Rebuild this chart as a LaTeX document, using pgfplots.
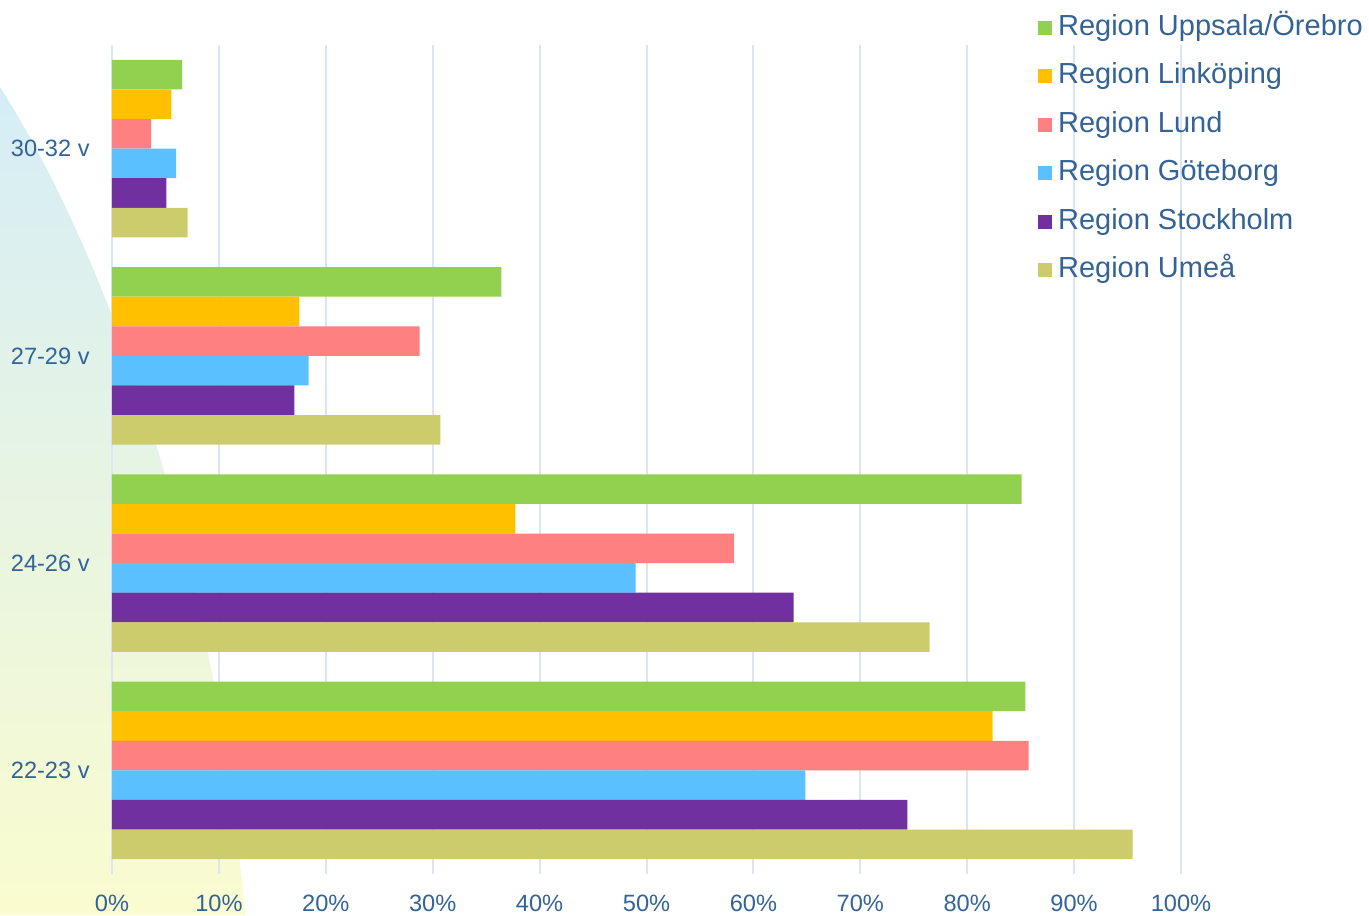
\documentclass[border=0pt]{standalone}
\usepackage{pgfplots}
\pgfplotsset{compat=1.18}
\usepackage{pgfplotstable}
\usepackage{fontspec}
\setmainfont{Liberation Sans}
\definecolor{cUpp}{HTML}{92D050}
\definecolor{cLin}{HTML}{FFC000}
\definecolor{cLund}{HTML}{FF8080}
\definecolor{cGot}{HTML}{5BC0FF}
\definecolor{cSto}{HTML}{7030A0}
\definecolor{cUme}{HTML}{CCCC6C}
\definecolor{txt}{RGB}{52,99,150}
\definecolor{gridc}{RGB}{220,230,242}
\definecolor{bgtop}{RGB}{213,237,246}
\definecolor{bgmid}{RGB}{232,245,228}
\definecolor{bgbot}{RGB}{250,252,207}
\pgfplotsset{sq/.style={legend image code/.code={\fill[##1] (0pt,-3.5pt) rectangle (7pt,3.5pt);}}}
\pgfplotstableread{
y upp lin lund got sto ume
0 85.44 82.38 85.75 64.86 74.40 95.48
1 85.10 37.73 58.19 48.99 63.77 76.49
2 36.42 17.52 28.78 18.40 17.06 30.72
3 6.55 5.55 3.65 5.99 5.08 7.08
}\datatable
\begin{document}
\begin{tikzpicture}
\begin{scope}[x=0.5pt,y=-0.5pt]
\path[use as bounding box] (0,0) rectangle (1369,915);
\shade[top color=bgtop, middle color=bgmid, bottom color=bgbot]
  (0,87) .. controls (110,260) and (215,560) .. (245,915) -- (0,915) -- cycle;
\end{scope}
\begin{axis}[
  at={(56pt,-437pt)}, anchor=south west,
  scale only axis, width=534.5pt, height=414.5pt,
  xbar, bar width=0.1427,
  xmin=0, xmax=100, ymin=-0.5, ymax=3.5,
  xtick={0,10,...,100},
  xticklabels={0\%,10\%,20\%,30\%,40\%,50\%,60\%,70\%,80\%,90\%,100\%},
  ytick={0,1,2,3},
  yticklabels={22-23 v,24-26 v,27-29 v,30-32 v},
  tick label style={font=\fontsize{11.8}{14}\selectfont, text=txt},
  xticklabel style={inner sep=0pt, anchor=north, yshift=-10.5pt},
  yticklabel style={inner sep=0pt, anchor=east, xshift=-11pt},
  axis line style={draw=none},
  major tick length=0pt,
  xmajorgrids=true,
  major grid style={draw=gridc, line width=1pt},
  legend cell align=left,
  legend style={at={(0.8663,1.0374)}, anchor=north west, draw=none, fill=none,
    inner sep=0pt, outer sep=0pt, font=\fontsize{14.5}{17}\selectfont, text=txt,
    row sep=10.75pt,
    nodes={inner sep=0pt, text height=10.5pt, text depth=3pt},
    /tikz/every odd column/.append style={column sep=3pt}},
]
\addplot[fill=cUpp, draw=none, bar shift=0.3567, sq] table[x=upp, y=y] {\datatable};
\addlegendentry{Region Uppsala/Örebro}
\addplot[fill=cLin, draw=none, bar shift=0.2140, sq] table[x=lin, y=y] {\datatable};
\addlegendentry{Region Linköping}
\addplot[fill=cLund, draw=none, bar shift=0.0713, sq] table[x=lund, y=y] {\datatable};
\addlegendentry{Region Lund}
\addplot[fill=cGot, draw=none, bar shift=-0.0713, sq] table[x=got, y=y] {\datatable};
\addlegendentry{Region Göteborg}
\addplot[fill=cSto, draw=none, bar shift=-0.2140, sq] table[x=sto, y=y] {\datatable};
\addlegendentry{Region Stockholm}
\addplot[fill=cUme, draw=none, bar shift=-0.3567, sq] table[x=ume, y=y] {\datatable};
\addlegendentry{Region Umeå}
\end{axis}
\end{tikzpicture}
\end{document}
